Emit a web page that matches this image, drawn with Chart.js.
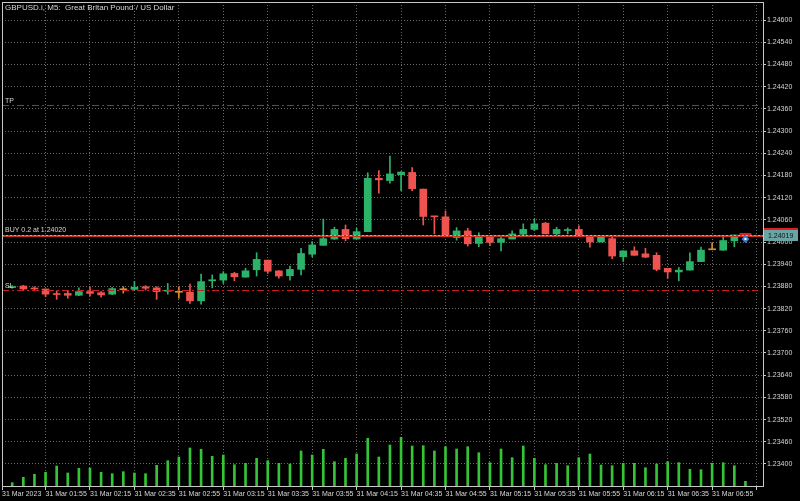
<!DOCTYPE html>
<html>
<head>
<meta charset="utf-8">
<script src="https://cdn.jsdelivr.net/npm/chart.js@4.4.0/dist/chart.umd.min.js"></script>
<style>
  html, body { margin: 0; padding: 0; background: #000; }
  canvas { display: block; }
</style>
</head>
<body>
<canvas id="mtChart" width="800" height="501"></canvas>
<script>
// GBPUSD.i M5, 31 Mar 2023 01:40 .. 07:10 (one entry per 5 min bar)
const opens = [
  1.23877, 1.23881, 1.23875, 1.23873, 1.23860, 1.23861, 1.23856, 1.23866, 1.23863, 1.23859,
  1.23871, 1.23872, 1.23879, 1.23876, 1.23867, 1.23864, 1.23864, 1.23841, 1.23895, 1.23897,
  1.23915, 1.23905, 1.23925, 1.23951, 1.23922, 1.23909, 1.23926, 1.23967, 1.23991, 1.24008,
  1.24034, 1.24008, 1.24028, 1.24172, 1.24166, 1.24182, 1.24188, 1.24143, 1.24069, 1.24068,
  1.24012, 1.24030, 1.23996, 1.24014, 1.23999, 1.24008, 1.24021, 1.24034, 1.24051, 1.24022,
  1.24031, 1.24034, 1.24014, 1.24000, 1.24009, 1.23960, 1.23976, 1.23968, 1.23964, 1.23929,
  1.23919, 1.23924, 1.23947, 1.23979, 1.23978, 1.24003, 1.24020
];
const highs = [
  1.23882, 1.23883, 1.23879, 1.23873, 1.23868, 1.23868, 1.23876, 1.23879, 1.23866, 1.23877,
  1.23879, 1.23893, 1.23882, 1.23879, 1.23888, 1.23879, 1.23886, 1.23913, 1.23911, 1.23920,
  1.23918, 1.23929, 1.23971, 1.23951, 1.23923, 1.23935, 1.23983, 1.24001, 1.24062, 1.24040,
  1.24046, 1.24037, 1.24187, 1.24193, 1.24232, 1.24190, 1.24201, 1.24143, 1.24070, 1.24084,
  1.24039, 1.24037, 1.24025, 1.24017, 1.24014, 1.24030, 1.24049, 1.24062, 1.24053, 1.24040,
  1.24038, 1.24044, 1.24014, 1.24015, 1.24013, 1.23976, 1.23987, 1.23983, 1.23971, 1.23929,
  1.23931, 1.23971, 1.23986, 1.23998, 1.24017, 1.24019, 1.24021
];
const lows = [
  1.23875, 1.23870, 1.23870, 1.23852, 1.23845, 1.23848, 1.23855, 1.23854, 1.23851, 1.23858,
  1.23862, 1.23870, 1.23870, 1.23845, 1.23859, 1.23848, 1.23834, 1.23832, 1.23876, 1.23888,
  1.23895, 1.23905, 1.23908, 1.23915, 1.23902, 1.23897, 1.23911, 1.23960, 1.23991, 1.24007,
  1.24003, 1.24008, 1.24028, 1.24132, 1.24159, 1.24139, 1.24139, 1.24046, 1.24022, 1.24014,
  1.24005, 1.23989, 1.23987, 1.23990, 1.23976, 1.24008, 1.24017, 1.24031, 1.24022, 1.24014,
  1.24022, 1.24014, 1.23986, 1.24000, 1.23955, 1.23947, 1.23964, 1.23958, 1.23922, 1.23902,
  1.23895, 1.23924, 1.23947, 1.23979, 1.23977, 1.23987, 1.24018
];
const closes = [
  1.23879, 1.23873, 1.23873, 1.23859, 1.23858, 1.23856, 1.23866, 1.23861, 1.23857, 1.23874,
  1.23871, 1.23878, 1.23875, 1.23866, 1.23869, 1.23864, 1.23841, 1.23893, 1.23898, 1.23914,
  1.23906, 1.23922, 1.23953, 1.23921, 1.23908, 1.23926, 1.23969, 1.23992, 1.24009, 1.24034,
  1.24009, 1.24028, 1.24172, 1.24168, 1.24184, 1.24189, 1.24144, 1.24069, 1.24068, 1.24014,
  1.24030, 1.23995, 1.24014, 1.23999, 1.24009, 1.24022, 1.24034, 1.24049, 1.24022, 1.24034,
  1.24033, 1.24014, 1.24000, 1.24014, 1.23962, 1.23976, 1.23964, 1.23959, 1.23926, 1.23919,
  1.23924, 1.23947, 1.23978, 1.23979, 1.24004, 1.24019, 1.24019
];
const volumes = [
  33, 87, 117, 137, 200, 130, 177, 180, 137, 123,
  143, 130, 123, 207, 253, 290, 380, 367, 297, 310,
  213, 227, 277, 253, 227, 220, 350, 310, 367, 243,
  277, 320, 477, 290, 410, 487, 400, 403, 350, 393,
  370, 393, 333, 233, 370, 283, 400, 277, 213, 227,
  203, 283, 320, 210, 203, 227, 227, 183, 220, 243,
  233, 167, 163, 227, 233, 203, 47
];
const timeLabels = [
  '31 Mar 2023', '31 Mar 01:55', '31 Mar 02:15', '31 Mar 02:35', '31 Mar 02:55',
  '31 Mar 03:15', '31 Mar 03:35', '31 Mar 03:55', '31 Mar 04:15', '31 Mar 04:35',
  '31 Mar 04:55', '31 Mar 05:15', '31 Mar 05:35', '31 Mar 05:55', '31 Mar 06:15',
  '31 Mar 06:35', '31 Mar 06:55', ''
];
const priceTicks = [
  1.23400, 1.23460, 1.23520, 1.23580, 1.23640, 1.23700, 1.23760, 1.23820, 1.23880, 1.23940,
  1.24000, 1.24060, 1.24120, 1.24180, 1.24240, 1.24300, 1.24360, 1.24420, 1.24480, 1.24540,
  1.24600
];

const titleText = 'GBPUSD.i, M5:  Great Britan Pound / US Dollar';
const tpLevel = 1.24370;
const slLevel = 1.23870;
const buyLevel = 1.24020;
const bidPrice = 1.24019;

const BULL = '#2bb36a';
const BEAR = '#ef5350';
const DOJI = '#d4912a';
const GRID = '#6a6a6a';
const FRAME = '#c8c8c8';
const TEXT = '#d6d6d6';
const FAMILY = '"Liberation Sans", Arial, sans-serif';
const FONT = '8px ' + FAMILY;
const FONT_SMALL = '7px ' + FAMILY;

function candleColor(i) {
  if (closes[i] > opens[i]) return BULL;
  if (closes[i] < opens[i]) return BEAR;
  return DOJI;
}

const wickData = lows.map((l, i) => ({ x: i, y: [l, highs[i]] }));
const bodyData = opens.map((o, i) => ({ x: i, y: [o, closes[i]] }));
const volData = volumes.map((v, i) => ({ x: i, y: v }));

function dashLine(ctx, x1, x2, y, color, dash, width) {
  ctx.save();
  ctx.strokeStyle = color;
  ctx.lineWidth = width || 1;
  ctx.setLineDash(dash);
  ctx.beginPath();
  ctx.moveTo(x1, y);
  ctx.lineTo(x2, y);
  ctx.stroke();
  ctx.restore();
}

// axis labels must not push the plot area inward
function noPad(scale) {
  scale.paddingTop = 0;
  scale.paddingBottom = 0;
  scale.paddingLeft = 0;
  scale.paddingRight = 0;
}

const mtOverlay = {
  id: 'mtOverlay',
  beforeDraw(chart) {
    const ctx = chart.ctx;
    ctx.save();
    ctx.fillStyle = '#000';
    ctx.fillRect(0, 0, chart.width, chart.height);
    ctx.restore();
  },
  afterDatasetsDraw(chart) {
    const ctx = chart.ctx;
    const area = chart.chartArea;
    const y = chart.scales.y;
    const x = chart.scales.x;
    const lineEnd = area.right - 5;

    // TP / SL levels
    const yTp = Math.round(y.getPixelForValue(tpLevel)) + 0.5;
    const ySl = Math.round(y.getPixelForValue(slLevel)) + 0.5;
    dashLine(ctx, area.left, lineEnd, yTp, '#c81e1e', [7, 3, 2, 3]);
    dashLine(ctx, area.left, lineEnd, ySl, '#c81e1e', [7, 3, 2, 3]);

    // open position line
    const yBuy = Math.round(y.getPixelForValue(buyLevel));
    ctx.save();
    ctx.fillStyle = '#c8321e';
    ctx.fillRect(area.left, yBuy, area.right - area.left, 2);
    ctx.restore();
    dashLine(ctx, area.left, area.right, yBuy + 0.5, '#b9c52a', [2, 2]);

    // labels on the levels
    ctx.save();
    ctx.font = FONT_SMALL;
    ctx.fillStyle = TEXT;
    ctx.textBaseline = 'bottom';
    ctx.textAlign = 'left';
    ctx.fillText('TP', area.left + 3, yTp - 1);
    ctx.fillText('SL', area.left + 3, ySl - 1);
    ctx.fillText('BUY 0.2 at 1.24020', area.left + 3, yBuy - 1);
    ctx.restore();

    // trade marker on the current bar
    const last = opens.length - 1;
    const xm = x.getPixelForValue(last);
    const ym = yBuy + 4;
    ctx.save();
    ctx.fillStyle = '#3d7fe0';
    ctx.beginPath();
    ctx.moveTo(xm, ym - 4);
    ctx.lineTo(xm + 4, ym);
    ctx.lineTo(xm, ym + 4);
    ctx.lineTo(xm - 4, ym);
    ctx.closePath();
    ctx.fill();
    ctx.fillStyle = '#ffffff';
    ctx.fillRect(xm - 1, ym - 1, 2, 2);
    // ask line segment
    ctx.fillStyle = '#e01e1e';
    ctx.fillRect(xm - 6, yBuy - 2, 12, 2);
    ctx.restore();

    // frame
    ctx.save();
    ctx.strokeStyle = FRAME;
    ctx.lineWidth = 1;
    ctx.strokeRect(area.left + 0.5, area.top + 0.5, area.right - area.left, area.bottom - area.top);
    ctx.restore();

    // bid price box on the axis
    const yBid = Math.round(y.getPixelForValue(bidPrice));
    ctx.save();
    ctx.fillStyle = '#e01e1e';
    ctx.fillRect(area.right + 1, yBid - 7, 34, 2);
    ctx.fillStyle = '#6aa5a5';
    ctx.fillRect(area.right + 1, yBid - 5, 34, 11);
    ctx.fillStyle = '#0c1414';
    ctx.font = FONT_SMALL;
    ctx.textBaseline = 'middle';
    ctx.textAlign = 'left';
    ctx.fillText(bidPrice.toFixed(5), area.right + 5, yBid + 1);
    ctx.restore();

    // symbol title
    ctx.save();
    ctx.font = FONT;
    ctx.fillStyle = TEXT;
    ctx.textBaseline = 'middle';
    ctx.textAlign = 'left';
    ctx.fillText(titleText, area.left + 3, area.top + 6);
    ctx.restore();
  }
};

const ctx = document.getElementById('mtChart').getContext('2d');
new Chart(ctx, {
  type: 'bar',
  data: {
    datasets: [
      {
        label: 'Volume',
        data: volData,
        yAxisID: 'yVol',
        backgroundColor: '#35c435',
        barThickness: 2,
        grouped: false,
        order: 3
      },
      {
        label: 'Wick',
        data: wickData,
        yAxisID: 'y',
        backgroundColor: (c) => candleColor(c.dataIndex),
        barThickness: 1,
        minBarLength: 1,
        grouped: false,
        order: 2
      },
      {
        label: 'Body',
        data: bodyData,
        yAxisID: 'y',
        backgroundColor: (c) => candleColor(c.dataIndex),
        barThickness: 7,
        minBarLength: 1,
        grouped: false,
        order: 1
      }
    ]
  },
  options: {
    responsive: false,
    animation: false,
    devicePixelRatio: 1,
    layout: { padding: { left: 2, top: 2, right: 0, bottom: 0 } },
    plugins: { legend: { display: false }, tooltip: { enabled: false }, title: { display: false } },
    scales: {
      x: {
        type: 'linear',
        min: -0.92,
        max: 67.58,
        offset: false,
        afterBuildTicks(scale) {
          scale.ticks = timeLabels.map((t, i) => ({ value: i === 0 ? -0.92 : 4 * i - 1 }));
        },
        afterFit(scale) { scale.height = 15; noPad(scale); },
        grid: {
          offset: false,
          color: GRID,
          drawTicks: true,
          tickLength: 4,
          tickColor: FRAME,
          tickBorderDash: []
        },
        border: { display: false, dash: [1, 2] },
        ticks: {
          autoSkip: false,
          maxRotation: 0,
          align: 'start',
          padding: 0,
          color: TEXT,
          font: { family: FAMILY, size: 7 },
          callback: (v, i) => timeLabels[i]
        }
      },
      y: {
        type: 'linear',
        position: 'right',
        min: 1.2334054,
        max: 1.2464865,
        afterBuildTicks(scale) {
          scale.ticks = priceTicks.map(v => ({ value: v }));
        },
        afterFit(scale) { scale.width = 37; noPad(scale); },
        grid: {
          color: GRID,
          drawTicks: true,
          tickLength: 3,
          tickColor: FRAME,
          tickBorderDash: []
        },
        border: { display: false, dash: [1, 2] },
        ticks: {
          padding: 1,
          color: TEXT,
          font: { family: FAMILY, size: 7 },
          callback: (v) => Number(v).toFixed(5)
        }
      },
      yVol: {
        type: 'linear',
        display: false,
        min: 0,
        max: 4840
      }
    }
  },
  plugins: [mtOverlay]
});
</script>
</body>
</html>
